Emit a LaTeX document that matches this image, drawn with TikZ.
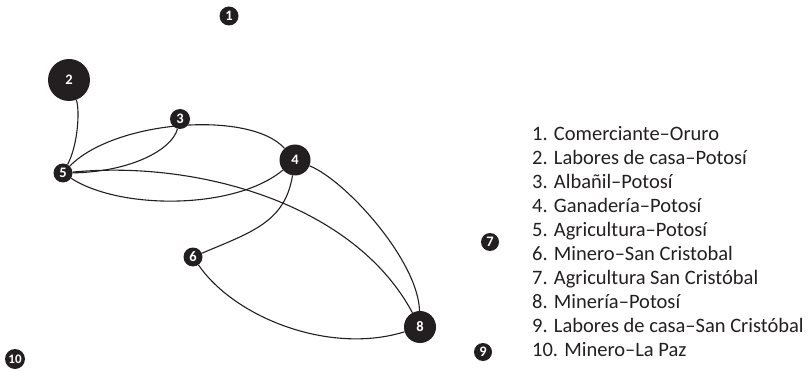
\documentclass[tikz,border=0pt]{standalone}
\usepackage{fontspec}
\setmainfont{Carlito}
\definecolor{nodefill}{HTML}{231F20}
\begin{document}
\begin{tikzpicture}[x=1pt,y=-1pt,
  actor/.style={circle, fill=nodefill, text=white, inner sep=0pt,
    minimum size=#1, font=\bfseries\fontsize{14.5}{14.5}\selectfont},
  actor/.default=19pt,
  tie/.style={line width=1.1pt, draw=nodefill},
  legend/.style={anchor=base west, inner sep=0pt, text=nodefill,
    font=\fontsize{20.5}{20.5}\selectfont}]
\useasboundingbox (0,0) rectangle (810,371);

% actors
\node[actor]      (n1)  at (229,16)  {1};
\node[actor=42pt] (n2)  at (69,80)   {2};
\node[actor=20pt] (n3)  at (180,119) {3};
\node[actor=31pt] (n4)  at (295,160) {4};
\node[actor]      (n5)  at (63,173)  {5};
\node[actor]      (n6)  at (193,257) {6};
\node[actor=18pt] (n7)  at (490,242) {7};
\node[actor=32pt] (n8)  at (420,327) {8};
\node[actor=18pt] (n9)  at (483,352) {9};
\node[actor=20pt] (n10) at (15,359)  {\kern-1pt\fontsize{13}{13}\selectfont 10\kern-1pt};

% ties
\draw[tie] (n2) .. controls (80,110) and (78,145) .. (n5);
\draw[tie] (n5) .. controls (130,172) and (172,150) .. (n3);
\draw[tie] (n5) .. controls (115,120) and (250,110) .. (n4);
\draw[tie] (n5) .. controls (120,210) and (235,210) .. (n4);
\draw[tie] (n5) .. controls (200,160) and (355,205) .. (n8);
\draw[tie] (n4) .. controls (285,222) and (252,232) .. (n6);
\draw[tie] (n4) .. controls (345,180) and (418,260) .. (n8);
\draw[tie] (n6) .. controls (235,318) and (330,355) .. (n8);

% legend
\foreach \txt [count=\i] in {
  1. Comerciante–Oruro,
  2. Labores de casa–Potosí,
  3. Albañil–Potosí,
  4. Ganadería–Potosí,
  5. Agricultura–Potosí,
  6. Minero–San Cristobal,
  7. Agricultura San Cristóbal,
  8. Minería–Potosí,
  9. Labores de casa–San Cristóbal,
  10. Minero–La Paz}
  \node[legend] (l\i) at (532,{140.5+24*(\i-1)}) {\txt};
\end{tikzpicture}
\end{document}
